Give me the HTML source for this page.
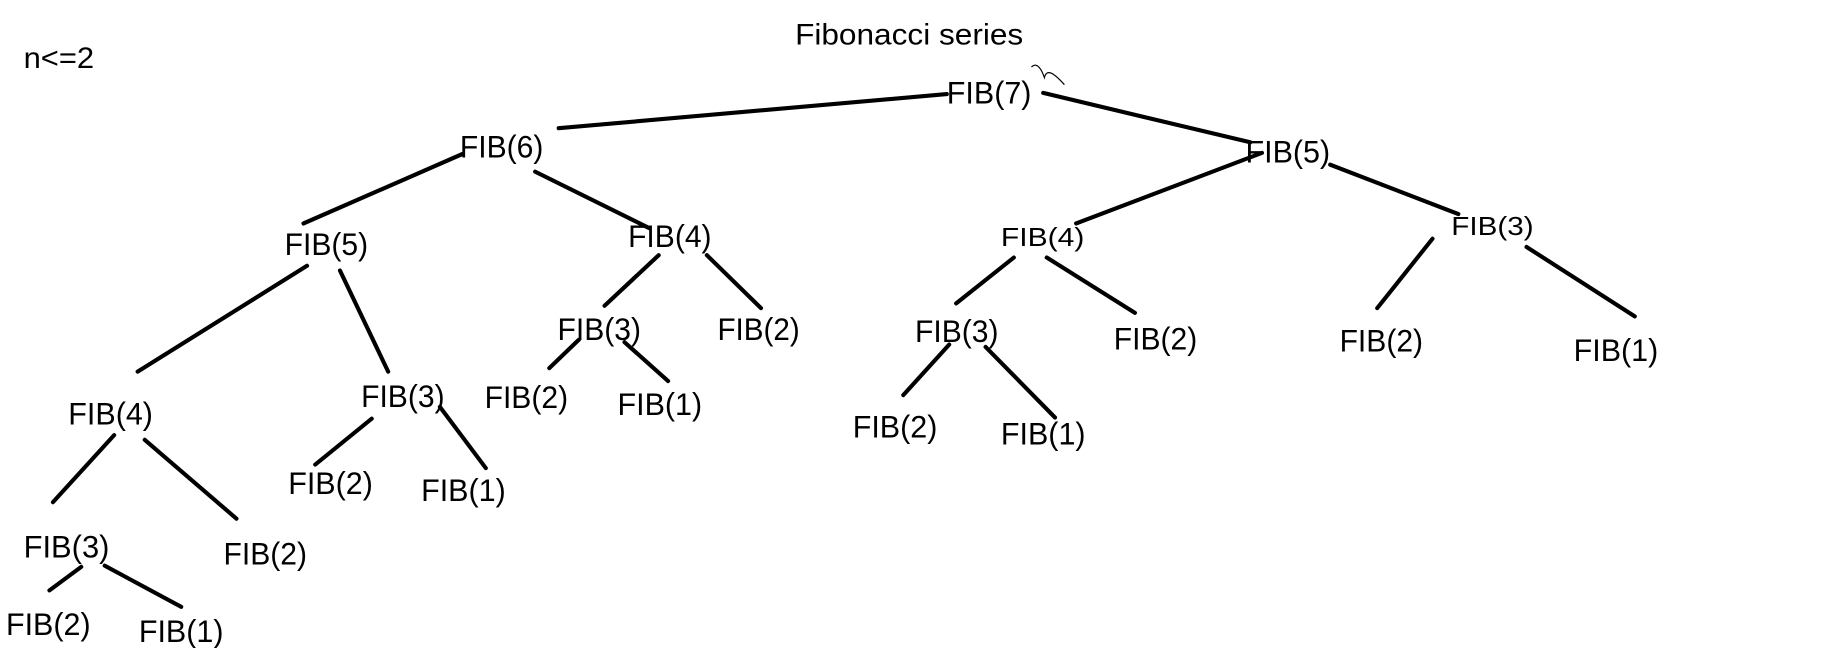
<!DOCTYPE html>
<html><head><style>html,body{margin:0;padding:0;background:#fff;overflow:hidden}svg{display:block}</style></head>
<body>
<svg width="1843" height="648" viewBox="0 0 1567 551" xmlns="http://www.w3.org/2000/svg">
<rect width="1567" height="551" fill="#fff"/>
<g stroke="#000" stroke-width="3.5" stroke-linecap="round" fill="none">
<line x1="475" y1="109" x2="805" y2="80"/>
<line x1="887" y1="79" x2="1063" y2="121"/>
<line x1="393" y1="131" x2="258" y2="190"/>
<line x1="455" y1="146" x2="552" y2="194"/>
<line x1="1073" y1="130" x2="915" y2="190"/>
<line x1="1131" y1="140" x2="1240" y2="182"/>
<line x1="261" y1="226" x2="117" y2="316"/>
<line x1="289" y1="230" x2="330" y2="316"/>
<line x1="560" y1="217" x2="514" y2="260"/>
<line x1="601" y1="217" x2="647" y2="262"/>
<line x1="862" y1="219" x2="813" y2="258"/>
<line x1="890" y1="219" x2="965" y2="266"/>
<line x1="1218" y1="203" x2="1171" y2="262"/>
<line x1="1298" y1="210" x2="1390" y2="269"/>
<line x1="492" y1="289" x2="467" y2="313"/>
<line x1="531" y1="291" x2="568" y2="324"/>
<line x1="807" y1="293" x2="768" y2="336"/>
<line x1="838" y1="295" x2="897" y2="355"/>
<line x1="97" y1="370" x2="45" y2="427"/>
<line x1="123" y1="374" x2="201" y2="441"/>
<line x1="316" y1="356" x2="268" y2="395"/>
<line x1="374" y1="346" x2="413" y2="398"/>
<line x1="69" y1="482" x2="42" y2="502"/>
<line x1="89" y1="481" x2="154" y2="516"/>
</g>
<path d="M877 57 C882 52 886 60 888 66 C890 58 896 62 905 72" stroke="#000" stroke-width="1" fill="none"/>
<g font-family="Liberation Sans, sans-serif" font-size="25" fill="#000">
<text x="676" y="38" textLength="194" lengthAdjust="spacingAndGlyphs">Fibonacci series</text>
<text x="20" y="58" textLength="60" lengthAdjust="spacingAndGlyphs">n&lt;=2</text>
</g>
<g font-family="Liberation Sans, sans-serif" font-size="27" fill="#000">
<text x="805" y="88" textLength="72" lengthAdjust="spacingAndGlyphs">FIB(7)</text>
<text x="391" y="134" textLength="71" lengthAdjust="spacingAndGlyphs">FIB(6)</text>
<text x="1059" y="138" textLength="72" lengthAdjust="spacingAndGlyphs">FIB(5)</text>
<text x="242" y="217" textLength="71" lengthAdjust="spacingAndGlyphs">FIB(5)</text>
<text x="534" y="210" textLength="71" lengthAdjust="spacingAndGlyphs">FIB(4)</text>
<text x="851" y="209" textLength="71" lengthAdjust="spacingAndGlyphs" font-size="22">FIB(4)</text>
<text x="1234" y="200" textLength="70" lengthAdjust="spacingAndGlyphs" font-size="22">FIB(3)</text>
<text x="474" y="289" textLength="71" lengthAdjust="spacingAndGlyphs">FIB(3)</text>
<text x="610" y="289" textLength="70" lengthAdjust="spacingAndGlyphs">FIB(2)</text>
<text x="778" y="291" textLength="71" lengthAdjust="spacingAndGlyphs">FIB(3)</text>
<text x="947" y="297" textLength="71" lengthAdjust="spacingAndGlyphs">FIB(2)</text>
<text x="1139" y="299" textLength="71" lengthAdjust="spacingAndGlyphs">FIB(2)</text>
<text x="1338" y="307" textLength="72" lengthAdjust="spacingAndGlyphs">FIB(1)</text>
<text x="412" y="347" textLength="71" lengthAdjust="spacingAndGlyphs">FIB(2)</text>
<text x="525" y="353" textLength="72" lengthAdjust="spacingAndGlyphs">FIB(1)</text>
<text x="725" y="372" textLength="72" lengthAdjust="spacingAndGlyphs">FIB(2)</text>
<text x="851" y="378" textLength="72" lengthAdjust="spacingAndGlyphs">FIB(1)</text>
<text x="58" y="361" textLength="72" lengthAdjust="spacingAndGlyphs">FIB(4)</text>
<text x="307" y="346" textLength="71" lengthAdjust="spacingAndGlyphs">FIB(3)</text>
<text x="245" y="420" textLength="72" lengthAdjust="spacingAndGlyphs">FIB(2)</text>
<text x="358" y="426" textLength="72" lengthAdjust="spacingAndGlyphs">FIB(1)</text>
<text x="20" y="474" textLength="73" lengthAdjust="spacingAndGlyphs">FIB(3)</text>
<text x="190" y="480" textLength="71" lengthAdjust="spacingAndGlyphs">FIB(2)</text>
<text x="5" y="540" textLength="72" lengthAdjust="spacingAndGlyphs">FIB(2)</text>
<text x="118" y="546" textLength="72" lengthAdjust="spacingAndGlyphs">FIB(1)</text>
</g>
</svg>
</body></html>
